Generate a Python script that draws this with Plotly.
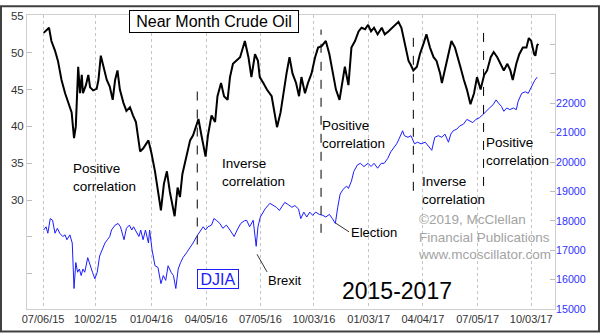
import plotly.graph_objects as go

# Near-month crude oil settlement (USD / barrel)
crude_dates = [
    "2015-07-07", "2015-07-16", "2015-07-20", "2015-07-26", "2015-07-31", "2015-08-06",
    "2015-08-12", "2015-08-17", "2015-08-23", "2015-08-27", "2015-08-30", "2015-09-03",
    "2015-09-06", "2015-09-09", "2015-09-11", "2015-09-16", "2015-09-20", "2015-09-23",
    "2015-09-28", "2015-10-04", "2015-10-07", "2015-10-11", "2015-10-15", "2015-10-21",
    "2015-10-26", "2015-10-31", "2015-11-04", "2015-11-08", "2015-11-12", "2015-11-18",
    "2015-11-23", "2015-11-29", "2015-12-04", "2015-12-09", "2015-12-16", "2015-12-21",
    "2015-12-30", "2016-01-04", "2016-01-10", "2016-01-15", "2016-01-20", "2016-01-25",
    "2016-01-30", "2016-02-04", "2016-02-08", "2016-02-12", "2016-02-17", "2016-02-21",
    "2016-02-25", "2016-03-03", "2016-03-09", "2016-03-14", "2016-03-23", "2016-03-28",
    "2016-04-04", "2016-04-08", "2016-04-14", "2016-04-20", "2016-04-24", "2016-04-30",
    "2016-05-05", "2016-05-11", "2016-05-15", "2016-05-20", "2016-05-26", "2016-06-01",
    "2016-06-09", "2016-06-15", "2016-06-20", "2016-06-26", "2016-07-01", "2016-07-04",
    "2016-07-10", "2016-07-16", "2016-07-24", "2016-07-29", "2016-08-02", "2016-08-08",
    "2016-08-12", "2016-08-18", "2016-08-23", "2016-08-28", "2016-09-03", "2016-09-08",
    "2016-09-12", "2016-09-18", "2016-09-23", "2016-09-29", "2016-10-05", "2016-10-10",
    "2016-10-16", "2016-10-23", "2016-10-29", "2016-11-03", "2016-11-09", "2016-11-15",
    "2016-11-21", "2016-11-24", "2016-11-30", "2016-12-05", "2016-12-11", "2016-12-17",
    "2016-12-22", "2016-12-28", "2017-01-02", "2017-01-07", "2017-01-12", "2017-01-18",
    "2017-01-25", "2017-01-30", "2017-02-05", "2017-02-11", "2017-02-16", "2017-02-22",
    "2017-02-27", "2017-03-05", "2017-03-11", "2017-03-15", "2017-03-19", "2017-03-25",
    "2017-03-30", "2017-04-05", "2017-04-10", "2017-04-16", "2017-04-22", "2017-04-27",
    "2017-05-03", "2017-05-06", "2017-05-11", "2017-05-17", "2017-05-22", "2017-05-28",
    "2017-06-02", "2017-06-06", "2017-06-12", "2017-06-17", "2017-06-23", "2017-06-29",
    "2017-07-04", "2017-07-10", "2017-07-16", "2017-07-21", "2017-07-27", "2017-08-01",
    "2017-08-07", "2017-08-12", "2017-08-18", "2017-08-24", "2017-08-29", "2017-09-02",
    "2017-09-08", "2017-09-13", "2017-09-19", "2017-09-25", "2017-09-29", "2017-10-03",
    "2017-10-08", "2017-10-10", "2017-10-13", "2017-10-15",
]
crude_values = [
    52.7, 53.4, 51.6, 50.3, 48.9, 46.3,
    44.5, 43.4, 41.9, 38.4, 40.0, 48.1,
    44.5, 47.0, 44.5, 45.6, 47.0, 45.3,
    44.9, 45.1, 46.3, 49.6, 48.3, 46.3,
    45.4, 43.6, 46.3, 47.6, 45.0, 43.2,
    42.1, 42.6, 41.5, 40.6, 36.6, 37.0,
    38.1, 36.4, 33.9, 31.1, 28.6, 32.2,
    33.9, 31.1, 29.5, 27.8, 31.7, 30.4,
    33.5, 36.2, 38.1, 38.8, 41.0, 38.8,
    35.9, 38.8, 41.5, 40.6, 44.1, 45.9,
    44.1, 43.6, 46.7, 48.5, 48.9, 49.4,
    51.6, 49.4, 46.7, 49.8, 48.9, 46.7,
    45.9, 45.0, 44.1, 41.9, 39.9, 41.9,
    44.1, 47.2, 49.4, 47.2, 45.9, 44.1,
    46.7, 44.5, 45.9, 47.2, 49.4, 50.7,
    50.9, 51.6, 49.8, 47.6, 45.0, 43.6,
    46.3, 48.1, 45.6, 50.7, 51.6, 52.9,
    53.4, 53.2, 53.8, 52.9, 53.4, 52.5,
    53.4, 52.5, 52.9, 53.4, 53.8, 54.2,
    53.4, 51.2, 48.9, 48.3, 47.6, 48.1,
    49.8, 51.2, 52.5, 50.7, 49.4, 48.9,
    47.2, 45.9, 47.6, 49.8, 51.6, 50.7,
    49.4, 48.1, 46.3, 45.0, 43.0, 44.5,
    46.7, 45.0, 47.0, 47.6, 49.4, 50.1,
    49.4, 48.5, 47.6, 48.5, 47.6, 46.3,
    48.5, 49.8, 50.7, 50.7, 52.0, 51.6,
    49.8, 49.6, 51.0, 51.2,
]

# Dow Jones Industrial Average close
djia_dates = [
    "2015-07-07", "2015-07-11", "2015-07-14", "2015-07-18", "2015-07-22", "2015-07-26",
    "2015-07-30", "2015-08-03", "2015-08-08", "2015-08-12", "2015-08-15", "2015-08-20",
    "2015-08-24", "2015-08-27", "2015-08-30", "2015-09-02", "2015-09-05", "2015-09-08",
    "2015-09-11", "2015-09-14", "2015-09-19", "2015-09-23", "2015-09-27", "2015-10-01",
    "2015-10-05", "2015-10-09", "2015-10-14", "2015-10-18", "2015-10-22", "2015-10-26",
    "2015-10-29", "2015-11-04", "2015-11-09", "2015-11-13", "2015-11-19", "2015-11-23",
    "2015-11-28", "2015-12-02", "2015-12-05", "2015-12-09", "2015-12-14", "2015-12-17",
    "2015-12-21", "2015-12-25", "2015-12-30", "2016-01-01", "2016-01-05", "2016-01-10",
    "2016-01-15", "2016-01-20", "2016-01-24", "2016-01-28", "2016-02-01", "2016-02-06",
    "2016-02-10", "2016-02-14", "2016-02-18", "2016-02-22", "2016-02-26", "2016-03-03",
    "2016-03-09", "2016-03-14", "2016-03-20", "2016-03-25", "2016-03-31", "2016-04-04",
    "2016-04-08", "2016-04-14", "2016-04-18", "2016-04-22", "2016-04-28", "2016-05-03",
    "2016-05-09", "2016-05-15", "2016-05-22", "2016-05-27", "2016-06-02", "2016-06-08",
    "2016-06-12", "2016-06-17", "2016-06-23", "2016-06-28", "2016-07-01", "2016-07-05",
    "2016-07-13", "2016-07-21", "2016-07-27", "2016-08-01", "2016-08-06", "2016-08-11",
    "2016-08-15", "2016-08-21", "2016-08-27", "2016-09-01", "2016-09-07", "2016-09-11",
    "2016-09-16", "2016-09-21", "2016-09-26", "2016-10-01", "2016-10-06", "2016-10-12",
    "2016-10-18", "2016-10-23", "2016-10-29", "2016-11-03", "2016-11-08", "2016-11-12",
    "2016-11-16", "2016-11-21", "2016-11-27", "2016-11-30", "2016-12-05", "2016-12-09",
    "2016-12-15", "2016-12-20", "2016-12-26", "2017-01-02", "2017-01-07", "2017-01-12",
    "2017-01-18", "2017-01-24", "2017-01-29", "2017-02-04", "2017-02-09", "2017-02-15",
    "2017-02-19", "2017-02-23", "2017-03-01", "2017-03-04", "2017-03-10", "2017-03-15",
    "2017-03-21", "2017-03-26", "2017-04-01", "2017-04-08", "2017-04-13", "2017-04-19",
    "2017-04-24", "2017-04-30", "2017-05-06", "2017-05-11", "2017-05-17", "2017-05-21",
    "2017-05-25", "2017-05-31", "2017-06-05", "2017-06-11", "2017-06-17", "2017-06-21",
    "2017-06-27", "2017-07-02", "2017-07-08", "2017-07-14", "2017-07-19", "2017-07-25",
    "2017-07-31", "2017-08-05", "2017-08-09", "2017-08-14", "2017-08-18", "2017-08-23",
    "2017-08-28", "2017-09-03", "2017-09-08", "2017-09-11", "2017-09-17", "2017-09-23",
    "2017-09-28", "2017-10-04", "2017-10-09", "2017-10-13",
]
djia_values = [
    17687, 17797, 17578, 18076, 18019, 17578,
    17744, 17578, 17465, 17522, 17356, 17522,
    17246, 15697, 16582, 16250, 16360, 16138,
    16360, 16250, 16748, 16470, 16250, 16028,
    16250, 16802, 17080, 17246, 17356, 17465,
    17687, 17853, 17909, 17797, 17356, 17744,
    17853, 17687, 17797, 17631, 17465, 17687,
    17356, 17687, 17246, 17687, 17024, 16470,
    16414, 15863, 16138, 15973, 16470, 16250,
    16138, 15697, 16360, 16582, 16748, 16913,
    17080, 17246, 17465, 17631, 17797, 17687,
    17797, 17853, 18076, 18019, 17909, 17744,
    17853, 17687, 17465, 17687, 17909, 18000,
    18019, 17797, 18019, 17133, 17797, 18129,
    18406, 18594, 18517, 18461, 18351, 18517,
    18627, 18550, 18461, 18517, 18406, 18076,
    18295, 18129, 18295, 18185, 18295, 18218,
    18185, 18129, 18218, 18076, 17909, 18461,
    18905, 19071, 19181, 19100, 19346, 19678,
    19900, 19955, 19845, 19955, 19845, 19955,
    19789, 19955, 19955, 20121, 20342, 20508,
    20618, 20784, 21063, 20895, 20840, 20895,
    20618, 20673, 20618, 20673, 20563, 20398,
    20840, 20895, 20840, 20950, 20673, 20950,
    21063, 21117, 21228, 21283, 21449, 21394,
    21339, 21449, 21505, 21615, 21726, 21837,
    21947, 22113, 22003, 21892, 21726, 21837,
    21781, 21837, 21781, 22058, 22335, 22390,
    22335, 22608, 22777, 22886,
]

# Quarterly x-axis ticks
tick_dates = [
    "2015-07-06", "2015-10-02", "2016-01-04", "2016-04-05", "2016-07-05",
    "2016-10-03", "2017-01-03", "2017-04-04", "2017-07-05", "2017-10-03",
]
tick_labels = [
    "07/06/15", "10/02/15", "01/04/16", "04/05/16", "07/05/16",
    "10/03/16", "01/03/17", "04/04/17", "07/05/17", "10/03/17",
]

crude_ticks = [20, 25, 30, 35, 40, 45, 50, 55]
crude_tick_labels = ["", "", "30", "35", "40", "45", "50", "55"]
djia_ticks = list(range(15000, 25001, 1000))
djia_tick_labels = [str(v) if v <= 22000 else "" for v in djia_ticks]

# Dates where the oil/stocks correlation regime flips
regime_changes = ["2016-03-21", "2016-10-15", "2017-03-19", "2017-07-15"]
regime_spans = [(88, 245), (25, 233), (30, 190), (25, 185)]

W, H = 600, 335
ML, MR, MT, MB = 27, 45, 10, 24
PW, PH = W - ML - MR, H - MT - MB


def px(x):
    return (x - ML) / PW


def py(y):
    return (H - MB - y) / PH


FONT = "Liberation Sans, Arial, sans-serif"

fig = go.Figure()
fig.add_trace(go.Scatter(
    x=djia_dates, y=djia_values, yaxis="y2", mode="lines",
    line=dict(color="#1c1cff", width=1), hoverinfo="skip",
))
fig.add_trace(go.Scatter(
    x=crude_dates, y=crude_values, mode="lines",
    line=dict(color="black", width=2), hoverinfo="skip",
))

shapes = []
for d, (ytop, ybot) in zip(regime_changes, regime_spans):
    shapes.append(dict(type="line", xref="x", yref="paper", x0=d, x1=d,
                       y0=py(ybot), y1=py(ytop),
                       line=dict(color="black", width=1, dash="dash")))
# leader lines for event labels
shapes.append(dict(type="line", xref="paper", yref="paper",
                   x0=px(257), y0=py(255), x1=px(267), y1=py(273),
                   line=dict(color="#333", width=1)))
shapes.append(dict(type="line", xref="paper", yref="paper",
                   x0=px(335.5), y0=py(223), x1=px(349), y1=py(232),
                   line=dict(color="#333", width=1)))
# outer frame
shapes.append(dict(type="rect", xref="paper", yref="paper",
                   x0=px(1), x1=px(599), y0=py(334), y1=py(1),
                   line=dict(color="#404040", width=2)))

ann = []


def label(text, x, y, size=13.5, color="black", xanchor="left", align="left", **kw):
    ann.append(dict(text=text, x=px(x), y=py(y), xref="paper", yref="paper",
                    xanchor=xanchor, yanchor="middle", align=align, showarrow=False,
                    font=dict(family=FONT, size=size, color=color), **kw))


label("Positive<br>correlation", 71, 176)
label("Inverse<br>correlation", 220, 171)
label("Positive<br>correlation", 320, 132)
label("Inverse<br>correlation", 420, 190)
label("Positive<br>correlation", 484, 150)
label("Election", 349, 233, size=13)
label("Brexit", 266, 282, size=13)
label("2015-2017", 397, 293, size=23, xanchor="center", align="center")
label("©2019, McClellan<br>Financial Publications<br>www.mcoscillator.com", 416, 237,
      size=13.5, color="#a3a3a3")
label("DJIA", 218, 280, size=16, color="#1c1cff", xanchor="center", align="center",
      bordercolor="#1c1cff", borderwidth=1, borderpad=1, width=38, height=16,
      bgcolor="white")
label("Near Month Crude Oil", 214, 17, size=16, xanchor="center", align="center",
      bordercolor="black", borderwidth=1, borderpad=0, width=168, height=21,
      bgcolor="white")

fig.update_layout(
    width=W, height=H,
    margin=dict(l=ML, r=MR, t=MT, b=MB, pad=0),
    paper_bgcolor="white", plot_bgcolor="white",
    showlegend=False,
    font=dict(family=FONT, color="#333"),
    xaxis=dict(
        type="date", range=["2015-06-09", "2017-11-12"],
        tickvals=tick_dates, ticktext=tick_labels, ticks="",
        showgrid=True, gridcolor="#c4c4c4", griddash="dot", gridwidth=1,
        showline=True, linecolor="#cfcfcf", mirror=True, zeroline=False,
        tickfont=dict(size=11, color="#333"),
    ),
    yaxis=dict(
        range=[15.2, 55.13], tickvals=crude_ticks, ticktext=crude_tick_labels,
        ticks="inside", ticklen=5, tickcolor="#bdbdbd",
        showgrid=False, showline=True, linecolor="#cfcfcf", mirror=True,
        zeroline=False, tickfont=dict(size=11.5, color="#333"),
    ),
    yaxis2=dict(
        overlaying="y", side="right", range=[15000, 25000],
        tickvals=djia_ticks, ticktext=djia_tick_labels,
        ticks="inside", ticklen=5, tickcolor="#bdbdbd",
        showgrid=False, showline=False, zeroline=False,
        tickfont=dict(size=10.7, color="#3030ff"),
    ),
    shapes=shapes, annotations=ann,
)

fig.write_html("out.html")
